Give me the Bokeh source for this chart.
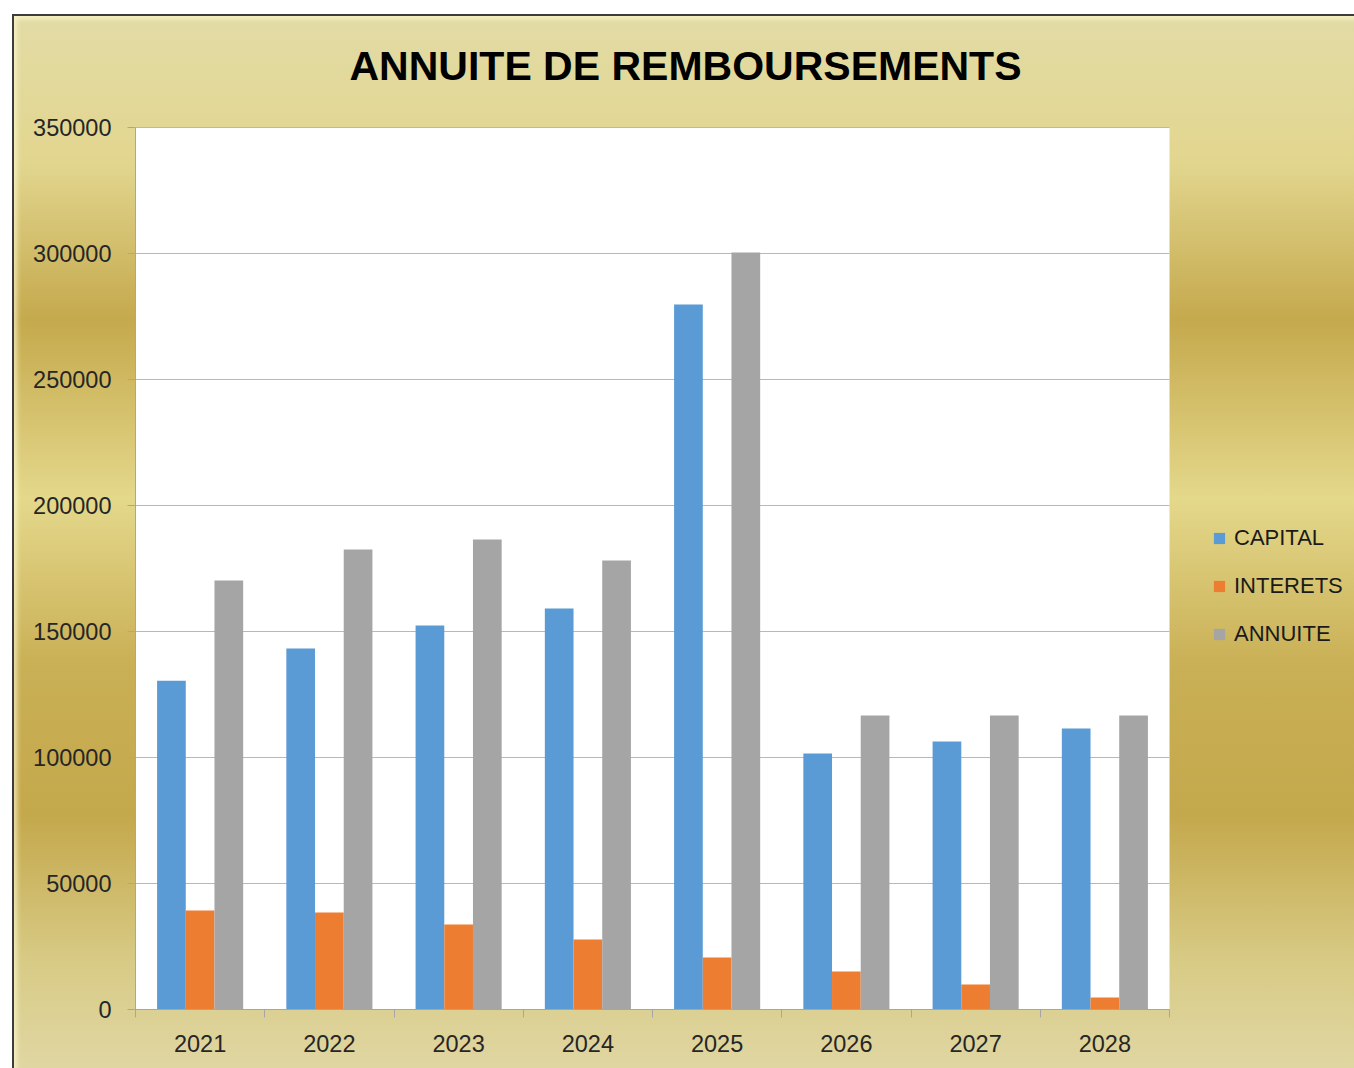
from bokeh.plotting import figure
from bokeh.models import (Range1d, FixedTicker, PrintfTickFormatter, Legend, LegendItem,
                          ColumnDataSource, BoxAnnotation, Label)
from bokeh.transform import dodge
from bokeh.embed import file_html
from bokeh.resources import INLINE
import numpy as np

years = ["2021", "2022", "2023", "2024", "2025", "2026", "2027", "2028"]
capital = [130500, 143300, 152400, 159100, 279800, 101600, 106300, 111500]
interets = [39300, 38500, 33700, 27800, 20600, 15100, 9900, 4800]
annuite = [170200, 182500, 186500, 178200, 300400, 116700, 116700, 116700]
y_ticks = [0, 50000, 100000, 150000, 200000, 250000, 300000, 350000]
series_names = ["CAPITAL", "INTERETS", "ANNUITE"]
series_colors = ["#5b9bd5", "#ed7d31", "#a5a5a5"]
title_text = "ANNUITE DE REMBOURSEMENTS"

FONT = "Liberation Sans"
N = len(years)
Y_MAX = 350000

# plot area: 1034 x 882 px; the frame continues to the right and top edges
# of the figure so that the legend and title can sit inside it
PLOT_W, PLOT_H = 1034, 882
FRAME_W, FRAME_H = 1219, 995
px_x = N / PLOT_W        # data units per pixel
px_y = Y_MAX / PLOT_H

idx = np.arange(N)
src = ColumnDataSource(dict(x=idx + 0.5, capital=capital, interets=interets, annuite=annuite))

p = figure(frame_width=FRAME_W, frame_height=FRAME_H, output_backend="svg", toolbar_location=None,
           x_range=Range1d(0, FRAME_W * px_x), y_range=Range1d(0, FRAME_H * px_y),
           min_border_left=123, min_border_right=0, min_border_top=0, min_border_bottom=59)
p.title = None
p.margin = (14, 0, 0, 12)
p.border_fill_color = None
p.background_fill_color = None
p.outline_line_color = None
p.styles = {
    "background": "linear-gradient(to bottom, #e2dba6 0%, #e2d68f 14%, #c5a94d 29%, #e4d88b 46%, #c9af55 62%, #c4a84c 76%, #d8cb86 90%, #e0d6a2 100%)",
    "box-shadow": "inset 2px 2px 0 #3c3c3c, inset 5px 5px 5px rgba(255,250,210,0.7)",
}

# white plot area
p.add_layout(BoxAnnotation(left=0, right=N, bottom=0, top=Y_MAX, fill_color="white",
                           fill_alpha=1, line_color=None, level="image"))

# title
p.add_layout(Label(x=(685 - 135) * px_x, y=(1009 - 65) * px_y, text=title_text,
                   text_align="center", text_baseline="alphabetic",
                   text_font=FONT, text_font_size="41px", text_font_style="bold",
                   text_color="black"))

w = 0.222
keys = ["capital", "interets", "annuite"]
renderers = []
for k, off, c in zip(keys, [-w, 0, w], series_colors):
    r = p.vbar(x=dodge("x", off, range=p.x_range), top=k, width=w, source=src,
               fill_color=c, line_color=None)
    renderers.append(r)

# axes
p.xaxis.ticker = FixedTicker(ticks=list(idx + 0.5), minor_ticks=list(np.arange(N + 1)))
p.xaxis.major_label_overrides = {float(i + 0.5): y for i, y in enumerate(years)}
p.xaxis.bounds = (0, N)
p.xaxis.major_tick_out = 0
p.xaxis.major_tick_in = 0
p.xaxis.minor_tick_out = 8
p.xaxis.minor_tick_in = 0
p.xaxis.major_label_standoff = 17
p.yaxis.ticker = FixedTicker(ticks=y_ticks)
p.yaxis.formatter = PrintfTickFormatter(format="%d")
p.yaxis.bounds = (0, Y_MAX)
p.yaxis.major_tick_out = 8
p.yaxis.major_tick_in = 0
p.yaxis.major_label_standoff = 16
for ax in (p.xaxis, p.yaxis):
    ax.axis_line_color = "#a6a6a6"
    ax.major_tick_line_color = "#a6a6a6"
    ax.minor_tick_line_color = "#a6a6a6"
    ax.major_label_text_font = FONT
    ax.major_label_text_font_size = "23.5px"
    ax.major_label_text_color = "#262626"
p.yaxis.minor_tick_line_color = None

p.xgrid.grid_line_color = None
p.ygrid.grid_line_color = "#b8b8b8"
p.ygrid.ticker = FixedTicker(ticks=y_ticks)
p.ygrid.cross_bounds = (0, N)

legend = Legend(items=[LegendItem(label=n, renderers=[r]) for n, r in zip(series_names, renderers)],
                location=(1077, 362))
legend.background_fill_alpha = 0
legend.border_line_color = None
legend.padding = 0
legend.margin = 0
legend.glyph_width = 14
legend.glyph_height = 14
legend.label_standoff = 8
legend.spacing = 22
legend.label_text_font = FONT
legend.label_text_font_size = "22px"
legend.label_text_color = "#1a1a1a"
p.add_layout(legend, "center")

open("out.html", "w").write(file_html(p, INLINE))
